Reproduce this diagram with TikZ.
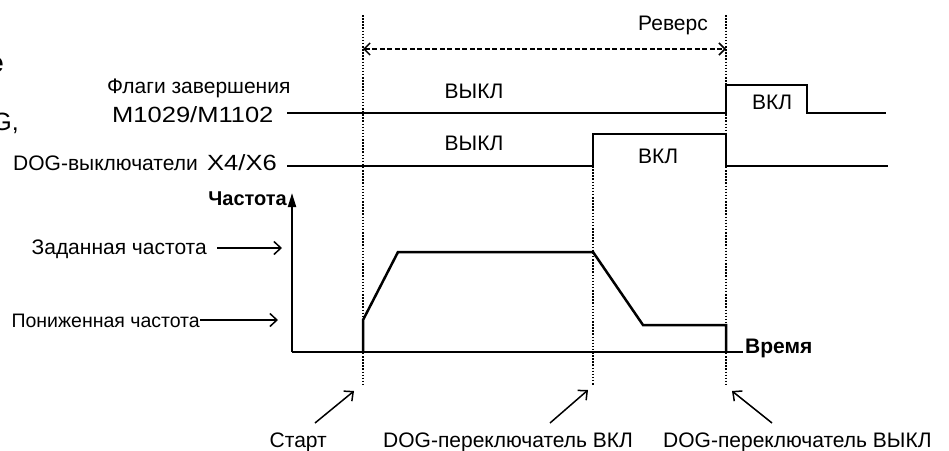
\documentclass[tikz,border=0pt]{standalone}
\usepackage{fontspec}
\setmainfont{Liberation Sans}
\newfontfamily\widefont{Liberation Sans}[FakeStretch=1.16]
\usetikzlibrary{arrows.meta}
\begin{document}
\begin{tikzpicture}[x=1pt,y=-1pt,
  lbl/.style={inner sep=0pt, font=\fontsize{21}{24}\selectfont},
  bold/.style={inner sep=0pt, font=\fontsize{20}{24}\selectfont\bfseries},
  num/.style={inner sep=0pt, font=\fontsize{22}{26}\selectfont\widefont},
  sig/.style={line width=2.5pt, line join=miter},
  guide/.style={line width=1.6pt, dash pattern=on 1.5pt off 1.6pt},
  pointer/.style={line width=1.5pt, -{Straight Barb[length=7pt,width=13pt,line width=1.5pt]}},
  revarrow/.style={line width=1.5pt, dash pattern=on 5pt off 2.5pt,
     {Straight Barb[length=6pt,width=12pt,line width=1.5pt]}-{Straight Barb[length=6pt,width=12pt,line width=1.5pt]}},
]
\useasboundingbox (0,0) rectangle (949,450);

% cut-off fragments at left edge
\node[inner sep=0pt, font=\fontsize{28}{30}\selectfont\bfseries, anchor=base east] (frag1) at (4,72) {e};
\node[inner sep=0pt, font=\fontsize{25}{28}\selectfont, anchor=base east] (frag2) at (19,130) {G,};

% signal labels
\node[lbl, anchor=base west] (flagt) at (107,93) {Флаги завершения};
\node[num, anchor=base west] (flagm) at (112,122) {M1029/M1102};
\node[lbl, anchor=base west] (dogt) at (13,170) {DOG-выключатели};
\node[num, anchor=base west] (dogx) at (207,170) {X4/X6};

% guide lines
\coordinate (gS1) at (363,15);  \coordinate (gS2) at (363,385);
\coordinate (gN1) at (593,166); \coordinate (gN2) at (593,385);
\coordinate (gF1) at (726,15);  \coordinate (gF2) at (726,385);
\draw[guide] (gS1) -- (gS2);
\draw[guide] (gN1) -- (gN2);
\draw[guide] (gF1) -- (gF2);

% reverse
\coordinate (r1) at (363,49); \coordinate (r2) at (726,49);
\draw[revarrow] (r1) -- (r2);
\node[lbl, anchor=base] (rev) at (673,30) {Реверс};

% flag signal
\coordinate (f0) at (287,113); \coordinate (f1) at (726,113);
\coordinate (f2) at (726,85);  \coordinate (f3) at (807,85);
\coordinate (f4) at (807,113); \coordinate (f5) at (886,113);
\draw[sig] (f0) -- (f1) -- (f2) -- (f3) -- (f4) -- (f5);
\node[lbl, anchor=base] (off1) at (474,98) {ВЫКЛ};
\node[lbl, anchor=base] (on1) at (772,109) {ВКЛ};

% DOG signal
\coordinate (d0) at (287,166); \coordinate (d1) at (593,166);
\coordinate (d2) at (593,134); \coordinate (d3) at (726,134);
\coordinate (d4) at (726,166); \coordinate (d5) at (888,166);
\draw[sig] (d0) -- (d1) -- (d2) -- (d3) -- (d4) -- (d5);
\node[lbl, anchor=base] (off2) at (474,150) {ВЫКЛ};
\node[lbl, anchor=base] (on2) at (658,163) {ВКЛ};

% axes
\coordinate (o) at (292,352);
\coordinate (ytop) at (292,193);
\coordinate (xend) at (743,352);
\draw[line width=2pt, -{Triangle[length=14pt,width=8pt]}] (o) -- (ytop);
\draw[line width=1.5pt] (o) -- (xend);
\node[bold, anchor=base east] (freq) at (287,205) {Частота};
\node[bold, font=\fontsize{21}{24}\selectfont\bfseries, anchor=base west] (time) at (745,353) {Время};

% speed profile
\coordinate (p0) at (363,352); \coordinate (p1) at (363,320);
\coordinate (p2) at (398,252); \coordinate (p3) at (593,252);
\coordinate (p4) at (643,325); \coordinate (p5) at (726,325);
\coordinate (p6) at (726,352);
\draw[sig] (p0) -- (p1) -- (p2) -- (p3) -- (p4) -- (p5) -- (p6);

% level labels
\node[lbl, anchor=base east] (setf) at (207,254) {Заданная частота};
\coordinate (setA) at (217,248); \coordinate (setB) at (282,248);
\draw[pointer] (setA) -- (setB);
\node[lbl, font=\fontsize{19.5}{23}\selectfont, anchor=base east] (lowf) at (200,327) {Пониженная частота};
\coordinate (lowA) at (200,320); \coordinate (lowB) at (278,320);
\draw[pointer] (lowA) -- (lowB);

% bottom labels
\node[lbl, anchor=base east] (start) at (327,447) {Старт};
\node[lbl, anchor=base west] (dogon) at (383,447) {DOG-переключатель ВКЛ};
\node[lbl, anchor=base west] (dogoff) at (663,447) {DOG-переключатель ВЫКЛ};
\coordinate (sa) at (315,423); \coordinate (sb) at (354,391);
\coordinate (na) at (550,423); \coordinate (nb) at (588,390);
\coordinate (fa) at (772,423); \coordinate (fb) at (732,391);
\draw[pointer] (sa) -- (sb);
\draw[pointer] (na) -- (nb);
\draw[pointer] (fa) -- (fb);
\end{tikzpicture}
\end{document}
